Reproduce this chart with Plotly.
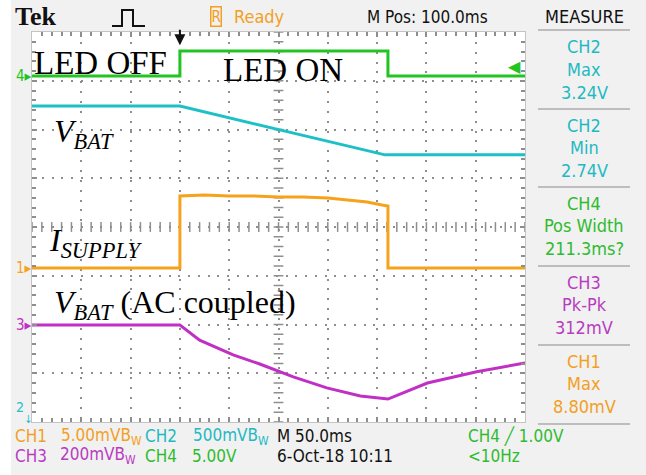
import plotly.graph_objects as go

# ---------------- data ----------------
time_led_ms = [0, 150, 150, 361, 361, 500]
led_v = [0, 0, 2.55, 2.55, 0, 0]                      # CH4

time_vbat_ms = [0, 150, 358, 500]
vbat_v = [3.24, 3.24, 2.74, 2.74]                     # CH2

time_isup_ms = [0, 150, 150, 175, 200, 225, 250, 275, 300, 320, 340, 355, 361, 361, 500]
isup_mv = [0, 0, 7.38, 7.49, 7.38, 7.38, 7.28, 7.28, 7.18, 6.97, 6.77, 6.46, 6.36, 0, 0]  # CH1

time_ac_ms = [0, 150, 170, 204, 231, 265, 299, 333, 361, 401, 451, 500]
vbat_ac_mv = [0, 0, -62, -123, -160, -213, -258, -291, -304, -238, -192, -156]  # CH3

# channel settings (volts or mV per division, ground position in divisions)
ch1_scale, ch1_gnd = 5.0, 3.16      # mV/div
ch2_scale, ch2_gnd = 0.5, 0.0       # V/div
ch3_scale, ch3_gnd = 200.0, 1.99    # mV/div
ch4_scale, ch4_gnd = 5.0, 7.10      # V/div
trig_level_v = 1.00

measure_blocks = [
    ("CH2", "Max", "3.24V", "#1fb9c2"),
    ("CH2", "Min", "2.74V", "#1fb9c2"),
    ("CH4", "Pos Width", "211.3ms?", "#2fbb2f"),
    ("CH3", "Pk-Pk", "312mV", "#b83cc0"),
    ("CH1", "Max", "8.80mV", "#f2a024"),
]

C_GREEN = "#22c422"
C_CYAN = "#1ec0c8"
C_ORANGE = "#f7a21c"
C_PURPLE = "#c030c4"
T_GREEN = "#2fbb2f"
T_CYAN = "#1fb9c2"
T_ORANGE = "#f2a024"
T_PURPLE = "#b83cc0"

# ---------------- geometry helpers ----------------
W, H = 646, 475
PL, PR, PT, PB = 32, 525, 32, 422
X_RANGE = [0, 500]     # 10 divisions x 50 ms
Y_RANGE = [0, 8]       # 8 vertical divisions


def pp(x, y):
    return (x - PL) / (PR - PL), (PB - y) / (PB - PT)


def to_div(vals, scale, gnd):
    return [gnd + v / scale for v in vals]


SCOPE_FONT = "Liberation Sans Narrow, DejaVu Sans Condensed, Arial Narrow, sans-serif"
SERIF = "Liberation Serif, Times New Roman, serif"
GRID = "#8e8e8e"
TICK = "#8e8e8e"

fig = go.Figure()

# centre cross-hair graticule ticks (every 1/5 division)
minor_x = [X_RANGE[0] + 10 * i for i in range(51)]
minor_y = [Y_RANGE[0] + 0.2 * i for i in range(41)]
fig.add_trace(go.Scatter(x=minor_x, y=[4] * len(minor_x), mode="markers", hoverinfo="skip",
                         marker=dict(symbol="line-ns", size=7, line=dict(color=TICK, width=1.5))))
fig.add_trace(go.Scatter(x=[250] * len(minor_y), y=minor_y, mode="markers", hoverinfo="skip",
                         marker=dict(symbol="line-ew", size=7, line=dict(color=TICK, width=1.5))))

fig.add_trace(go.Scatter(x=time_led_ms, y=to_div(led_v, ch4_scale, ch4_gnd), mode="lines",
                         line=dict(color=C_GREEN, width=3), hoverinfo="skip"))
fig.add_trace(go.Scatter(x=time_vbat_ms, y=to_div(vbat_v, ch2_scale, ch2_gnd), mode="lines",
                         line=dict(color=C_CYAN, width=3), hoverinfo="skip"))
fig.add_trace(go.Scatter(x=time_isup_ms, y=to_div(isup_mv, ch1_scale, ch1_gnd), mode="lines",
                         line=dict(color=C_ORANGE, width=3), hoverinfo="skip"))
fig.add_trace(go.Scatter(x=time_ac_ms, y=to_div(vbat_ac_mv, ch3_scale, ch3_gnd), mode="lines",
                         line=dict(color=C_PURPLE, width=3), hoverinfo="skip"))

fig.update_layout(
    width=W, height=H,
    margin=dict(l=PL, r=W - PR, t=PT, b=H - PB),
    paper_bgcolor="#f1f1f1",
    plot_bgcolor="white",
    showlegend=False,
    xaxis=dict(range=X_RANGE, dtick=50, showticklabels=False, zeroline=False, fixedrange=True,
               showgrid=True, gridcolor=GRID, griddash="2px,7.86px", gridwidth=2,
               showline=True, linecolor="#c4c4c4", linewidth=1, mirror="ticks",
               ticks="inside", ticklen=5, tickcolor=TICK, tickwidth=1.5,
               minor=dict(dtick=10, ticks="inside", ticklen=4, tickcolor=TICK, tickwidth=1.5,
                          showgrid=False)),
    yaxis=dict(range=Y_RANGE, dtick=1, showticklabels=False, zeroline=False, fixedrange=True,
               showgrid=True, gridcolor=GRID, griddash="2px,7.75px", gridwidth=2,
               showline=True, linecolor="#c4c4c4", linewidth=1, mirror="ticks",
               ticks="inside", ticklen=5, tickcolor=TICK, tickwidth=1.5,
               minor=dict(dtick=0.2, ticks="inside", ticklen=4, tickcolor=TICK, tickwidth=1.5,
                          showgrid=False)),
)

shapes = []
ann = []

# white outer strip at the far left
x0, _ = pp(0, 0); x1, _ = pp(11, 0)
shapes.append(dict(type="rect", xref="paper", yref="paper", x0=x0, x1=x1, y0=pp(0, 475)[1], y1=pp(0, 0)[1],
                   fillcolor="white", line=dict(width=0), layer="below"))


def hdr(text, x, y, color="#111", size=17, family=SCOPE_FONT, xanchor="left", **kw):
    xp, yp = pp(x, y)
    ann.append(dict(text=text, x=xp, y=yp, xref="paper", yref="paper", showarrow=False,
                    xanchor=xanchor, yanchor="middle", font=dict(color=color, size=size, family=family), **kw))


# header
hdr("<b>Tek</b>", 13, 17, size=26, family=SERIF)
pts = [(112, 26), (122, 26), (122, 10), (133, 10), (133, 26), (145, 26)]
path = "M " + " L ".join(f"{pp(a, b)[0]},{pp(a, b)[1]}" for a, b in pts)
shapes.append(dict(type="path", xref="paper", yref="paper", path=path, line=dict(color="#111", width=2)))
hdr("R", 210, 17, color=T_ORANGE, size=15, bordercolor=T_ORANGE, borderwidth=1.5, borderpad=0)
hdr("Ready", 232, 17, color=T_ORANGE, size=18)
hdr("M Pos: 100.0ms", 365, 17, size=17)
hdr("MEASURE", 584, 17, size=18, xanchor="center")

# measure panel separators
for yy in [30, 109, 187, 266, 345, 424]:
    a, b = pp(538, yy); c, _ = pp(630, yy)
    shapes.append(dict(type="line", xref="paper", yref="paper", x0=a, x1=c, y0=b, y1=b,
                       line=dict(color="#bdbdbd", width=2)))

block_tops = [47, 125, 203, 282, 361]
for (ch, name, val, col), yt in zip(measure_blocks, block_tops):
    for i, t in enumerate([ch, name, val]):
        hdr(t, 584, yt + 22.5 * i, color=col, size=18, xanchor="center")

# bottom status lines
row1, row2 = 436, 456
hdr("CH1", 13, row1, color=T_ORANGE, size=17)
hdr("5.00mVB<sub>W</sub>", 59, row1, color=T_ORANGE, size=17)
hdr("CH2", 143, row1, color=T_CYAN, size=17)
hdr("500mVB<sub>W</sub>", 191, row1, color=T_CYAN, size=17)
hdr("M 50.0ms", 275, row1, size=17)
hdr("CH4 ╱ 1.00V", 466, row1, color=T_GREEN, size=17)
hdr("CH3", 13, row2, color=T_PURPLE, size=17)
hdr("200mVB<sub>W</sub>", 58, row2, color=T_PURPLE, size=17)
hdr("CH4", 143, row2, color=T_GREEN, size=17)
hdr("5.00V", 190, row2, color=T_GREEN, size=17)
hdr("6-Oct-18 10:11", 275, row2, size=17)
hdr("<10Hz", 466, row2, color=T_GREEN, size=17)


# ground markers (left of plot), at the channel ground levels
def gmark(text, gnd, color, size=15, x=14):
    ann.append(dict(text=text, x=pp(x, 0)[0], y=gnd, xref="paper", yref="y", showarrow=False,
                    xanchor="left", yanchor="middle", font=dict(color=color, size=size, family=SCOPE_FONT)))


gmark("4▸", ch4_gnd, C_GREEN)
gmark("1▸", ch1_gnd, C_ORANGE)
gmark("3▸", ch3_gnd, C_PURPLE)
gmark("2", ch2_gnd + 0.3, C_CYAN, size=14)
gmark("↓", ch2_gnd + 0.06, C_CYAN, size=11, x=22)

# trigger position arrow
ann.append(dict(text="", x=150, y=7.73, xref="x", yref="y", showarrow=True, ax=0, ay=-17,
                arrowhead=2, arrowsize=1.1, arrowwidth=2, arrowcolor="#111"))
# trigger level marker
ann.append(dict(text="◀", x=pp(523, 0)[0], y=ch4_gnd + trig_level_v / ch4_scale, xref="paper", yref="y",
                showarrow=False, xanchor="right", yanchor="middle", font=dict(color=C_GREEN, size=16)))


# signal labels
def lab(text, x, y, size=33):
    xp, yp = pp(x, y)
    ann.append(dict(text=text, x=xp, y=yp, xref="paper", yref="paper", showarrow=False,
                    xanchor="left", yanchor="middle", font=dict(color="black", size=size, family=SERIF)))


lab("LED OFF", 32, 63)
lab("LED ON", 221, 70)
lab("<i>V<sub>BAT</sub></i>", 52, 133, size=32)
lab("<i>I<sub>SUPPLY</sub></i>", 47, 242, size=32)
lab("<i>V<sub>BAT</sub></i> (AC coupled)", 52, 304, size=32)

fig.update_layout(shapes=shapes, annotations=ann)
fig.write_html("out.html", config={"displayModeBar": False},
               post_script="document.body.style.margin='0';")
